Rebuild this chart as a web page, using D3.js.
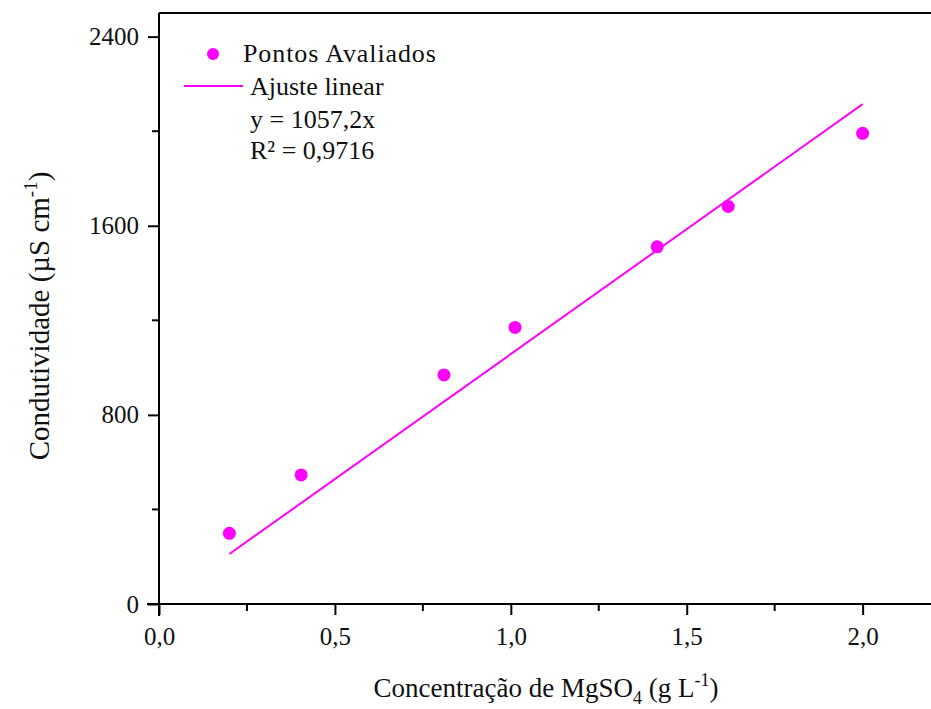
<!DOCTYPE html>
<html>
<head>
<meta charset="utf-8">
<script src="https://cdn.jsdelivr.net/npm/d3@7/dist/d3.min.js"></script>
<style>
  html, body { margin: 0; padding: 0; background: #fff; }
  svg { display: block; }
  text { font-family: "Liberation Serif", "Times New Roman", serif; fill: #111; }
</style>
</head>
<body>
<script>
// Measured conductivity of MgSO4 solutions
const concentration = [0.2, 0.404, 0.81, 1.012, 1.416, 1.618, 2.0];
const conductivity = [299, 546, 969, 1170, 1511, 1682, 1991];

// Linear fit through the origin
const slope = 1057.2;
const fitRange = [0.2, 2.0];

const xMajorTicks = [0, 0.5, 1.0, 1.5, 2.0];
const xMinorTicks = [0.25, 0.75, 1.25, 1.75];
const yMajorTicks = [0, 800, 1600, 2400];
const yMinorTicks = [400, 1200, 2000];

const legendLabels = ["Pontos Avaliados", "Ajuste linear", "y = 1057,2x", "R² = 0,9716"];

const W = 931, H = 709;
const color = "#ff00ff";

const svg = d3.select("body").append("svg").attr("width", W).attr("height", H);

const x = d3.scaleLinear().domain([0, 2.2]).range([159, 933]);
const y = d3.scaleLinear().domain([0, 2500]).range([604, 13]);

const fmt = d => d3.format(".1f")(d).replace(".", ",");

// Frame: top edge
svg.append("line")
  .attr("x1", x(0)).attr("x2", x(2.2))
  .attr("y1", y(2500)).attr("y2", y(2500))
  .attr("stroke", "#000").attr("stroke-width", 2);

// X axis
const xAxis = svg.append("g").attr("transform", `translate(0,${y(0)})`)
  .call(d3.axisBottom(x).tickValues(xMajorTicks).tickSize(11).tickPadding(12).tickFormat(fmt));
xAxis.attr("font-family", null);
xAxis.select(".domain").attr("stroke-width", 2).attr("d", `M${x(0) - 12},0H${x(2.2)}`);
xAxis.selectAll(".tick line").attr("stroke-width", 2);
xAxis.selectAll(".tick text").attr("font-size", 25).attr("fill", "#111");
xAxis.selectAll(".minor").data(xMinorTicks).enter().append("line")
  .attr("class", "minor")
  .attr("x1", d => x(d)).attr("x2", d => x(d))
  .attr("y1", 0).attr("y2", 7)
  .attr("stroke", "#000").attr("stroke-width", 2);

// Y axis
const yAxis = svg.append("g").attr("transform", `translate(${x(0)},0)`)
  .call(d3.axisLeft(y).tickValues(yMajorTicks).tickSize(11).tickPadding(9).tickFormat(d3.format("d")));
yAxis.attr("font-family", null);
yAxis.select(".domain").attr("stroke-width", 2).attr("d", `M0,${y(0) + 12}V${y(2500)}`);
yAxis.selectAll(".tick line").attr("stroke-width", 2);
yAxis.selectAll(".tick text").attr("font-size", 25).attr("fill", "#111");
yAxis.selectAll(".minor").data(yMinorTicks).enter().append("line")
  .attr("class", "minor")
  .attr("x1", 0).attr("x2", -7)
  .attr("y1", d => y(d)).attr("y2", d => y(d))
  .attr("stroke", "#000").attr("stroke-width", 2);

// Fitted line
svg.append("line")
  .attr("x1", x(fitRange[0])).attr("y1", y(slope * fitRange[0]))
  .attr("x2", x(fitRange[1])).attr("y2", y(slope * fitRange[1]))
  .attr("stroke", color).attr("stroke-width", 2);

// Measured points
svg.append("g").selectAll("circle")
  .data(concentration.map((c, i) => [c, conductivity[i]]))
  .enter().append("circle")
  .attr("cx", d => x(d[0])).attr("cy", d => y(d[1]))
  .attr("r", 6.5).attr("fill", color);

// Legend
const lg = svg.append("g").attr("font-size", 26);
lg.append("circle").attr("cx", 213).attr("cy", 54).attr("r", 6).attr("fill", color);
lg.append("line").attr("x1", 184).attr("x2", 243).attr("y1", 86).attr("y2", 86)
  .attr("stroke", color).attr("stroke-width", 2);
lg.append("text").attr("x", 243).attr("y", 62).attr("letter-spacing", 0.9).text(legendLabels[0]);
lg.append("text").attr("x", 250).attr("y", 95).text(legendLabels[1]);
lg.append("text").attr("x", 250).attr("y", 128).text(legendLabels[2]);
lg.append("text").attr("x", 250).attr("y", 159).text(legendLabels[3]);

// X axis title
const xt = svg.append("text").attr("x", 546).attr("y", 697)
  .attr("text-anchor", "middle").attr("font-size", 27);
xt.append("tspan").text("Concentração de MgSO");
xt.append("tspan").attr("font-size", 18).attr("dy", 7).text("4");
xt.append("tspan").attr("dy", -7).text(" (g L");
xt.append("tspan").attr("font-size", 18).attr("dy", -11).text("-1");
xt.append("tspan").attr("dy", 11).text(")");

// Y axis title
const yt = svg.append("text")
  .attr("transform", "translate(49,316) rotate(-90)")
  .attr("text-anchor", "middle").attr("font-size", 29);
yt.append("tspan").text("Condutividade (µS cm");
yt.append("tspan").attr("font-size", 19).attr("dy", -12).text("-1");
yt.append("tspan").attr("dy", 12).text(")");
</script>
</body>
</html>
